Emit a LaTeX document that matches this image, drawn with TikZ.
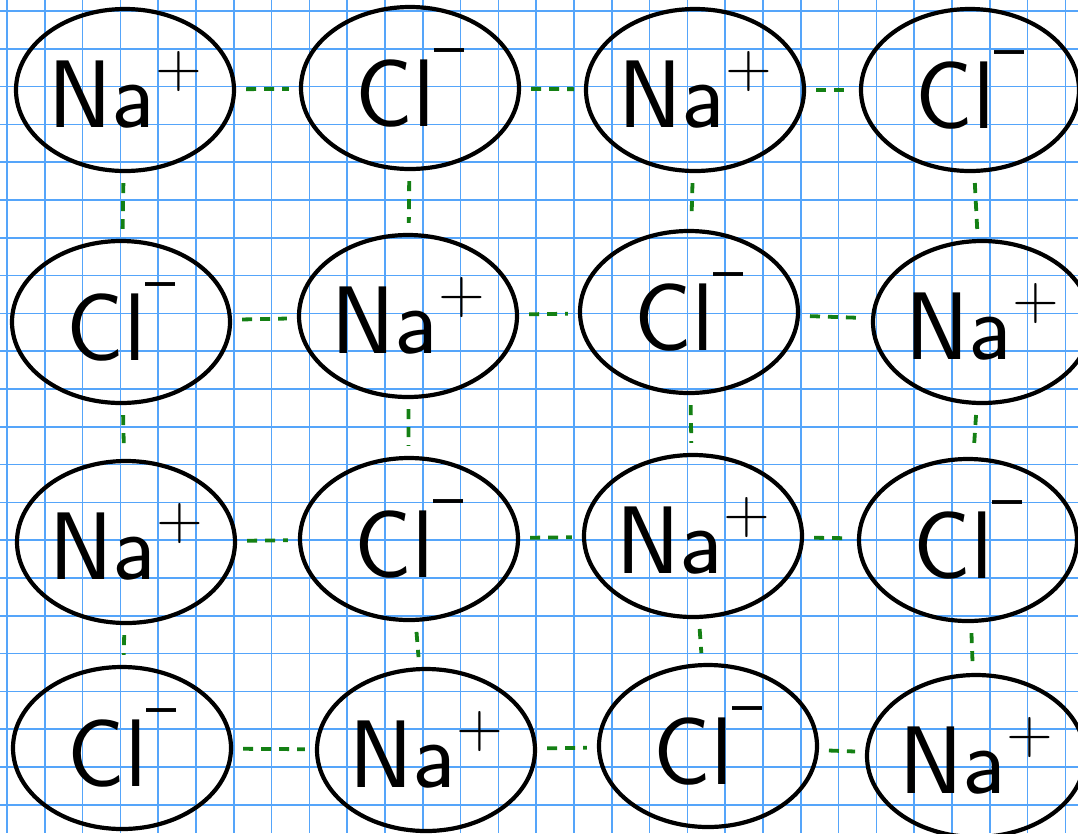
\documentclass[tikz,border=0pt]{standalone}
\usepackage{tikz}
\usetikzlibrary{shapes.geometric}
\definecolor{gridblue}{RGB}{85,165,250}
\definecolor{bondgreen}{RGB}{20,128,20}
\newcommand{\ionplus}{\raisebox{0.42em}{\fontsize{64}{64}\selectfont +}}
\newcommand{\ionminus}{\raisebox{0.62em}{\fontsize{64}{64}\selectfont --}}
\tikzset{
  ion/.style={draw, ellipse, line width=4.2pt, minimum width=218pt, minimum height=162pt,
    inner sep=0pt, font=\sffamily\fontsize{96}{96}\selectfont},
  bond/.style={draw=bondgreen, line width=3.8pt, dash pattern=on 10pt off 8pt,
    shorten <=10pt, shorten >=10pt},
  gridline/.style={gridblue, line width=1.6pt}
}

\begin{document}
\begin{tikzpicture}[x=1pt,y=-1pt]
    \useasboundingbox (0,0) rectangle (1078,833);
    \clip (0,0) rectangle (1078,833);
    \fill[white] (0,0) rectangle (1078,833);
    % squared paper
    \foreach \i in {0,...,28} \draw[gridline] ({7+37.8*\i},0) -- ({7+37.8*\i},833);
    \foreach \j in {0,...,21} \draw[gridline] (0,{11+37.8*\j}) -- (1078,{11+37.8*\j});
    % ions
    \node[ion] (na11) at (125,90) {Na\ionplus};
    \node[ion] (cl12) at (410,88) {Cl\ionminus};
    \node[ion] (na13) at (695,90) {Na\ionplus};
    \node[ion] (cl14) at (970,90) {Cl\ionminus};
    \node[ion] (cl21) at (121,322) {Cl\ionminus};
    \node[ion] (na22) at (408,316) {Na\ionplus};
    \node[ion] (cl23) at (689,312) {Cl\ionminus};
    \node[ion] (na24) at (982,322) {Na\ionplus};
    \node[ion] (na31) at (126,542) {Na\ionplus};
    \node[ion] (cl32) at (409,539) {Cl\ionminus};
    \node[ion] (na33) at (693,536) {Na\ionplus};
    \node[ion] (cl34) at (968,540) {Cl\ionminus};
    \node[ion] (cl41) at (122,748) {Cl\ionminus};
    \node[ion] (na42) at (426,750) {Na\ionplus};
    \node[ion] (cl43) at (708,746) {Cl\ionminus};
    \node[ion] (na44) at (976,756) {Na\ionplus};
    % bonds
    \foreach \a/\b in {na11/cl12, cl12/na13, na13/cl14,
                       cl21/na22, na22/cl23, cl23/na24,
                       na31/cl32, cl32/na33, na33/cl34,
                       cl41/na42, na42/cl43, cl43/na44,
                       na11/cl21, cl21/na31, na31/cl41,
                       cl12/na22, na22/cl32, cl32/na42,
                       na13/cl23, cl23/na33, na33/cl43,
                       cl14/na24, na24/cl34, cl34/na44}
        \draw[bond] (\a) -- (\b);
\end{tikzpicture}
\end{document}
